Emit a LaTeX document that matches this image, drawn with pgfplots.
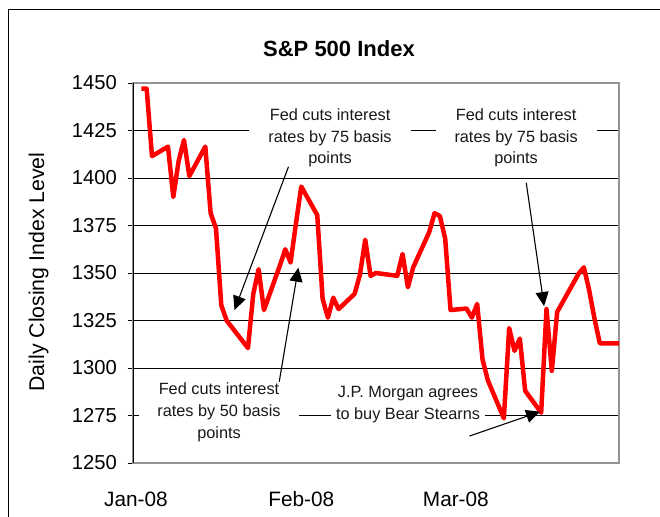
\documentclass[border=0pt]{standalone}
\usepackage{fontspec}
\setmainfont{Liberation Sans}
\usepackage{pgfplots}
\pgfplotsset{compat=1.18}
\usetikzlibrary{arrows.meta}

\pgfplotstableread{
day value
2 1447
3 1447
4 1411.5
7 1416.5
8 1390
9 1409
10 1420
11 1401
14 1416.5
15 1381.5
16 1373.5
17 1333
18 1325
22 1310.5
23 1339
24 1352
25 1330.5
28 1354
29 1362.5
30 1355.5
31 1376
32 1395.5
35 1380.5
36 1336.5
37 1326.5
38 1337
39 1331
42 1339
43 1349
44 1367.5
45 1348.5
46 1350
50 1348.5
51 1360
52 1342.5
53 1353
56 1371.5
57 1381.5
58 1380
59 1368
60 1330.5
63 1331.3
64 1326.5
65 1333.7
66 1304.5
67 1293.5
70 1273.5
71 1321
72 1309
73 1315.5
74 1288
77 1276.5
78 1331
79 1298.5
80 1329.5
84 1349.5
85 1353
86 1341
87 1326
88 1313
91.6 1313
}\spx

\begin{document}
\begin{tikzpicture}
\path[use as bounding box] (-133bp,-54bp) rectangle (527bp,463bp);
\draw[line width=1.4bp] (-124.6bp,-100bp) -- (-124.6bp,453.7bp) -- (600bp,453.7bp);
\begin{axis}[
  at={(0,0)}, anchor=south west,
  scale only axis, width=486bp, height=380bp,
  xmin=0.437, xmax=91.6, ymin=1250, ymax=1450,
  clip=false,
  xtick={1,32,61}, xticklabels={Jan-08,Feb-08,Mar-08},
  ytick={1250,1275,...,1450},
  ymajorgrids, grid style={black, line width=0.8bp},
  axis line style={draw=gray!85, line width=1.8bp},
  ytick pos=left, xtick pos=bottom,
  tick align=outside, major tick length=5bp,
  ytick style={black, line width=0.8bp},
  xtick style={draw=none},
  yticklabel style={font=\fontsize{20.2bp}{24bp}\selectfont, anchor=east, inner sep=0pt, xshift=-11bp},
  xticklabel style={font=\fontsize{20.8bp}{24bp}\selectfont, anchor=base, inner sep=0pt, yshift=-38.5bp},
  /pgf/number format/assume math mode=true,
  /pgf/number format/1000 sep={},
]
\draw[black, line width=1bp] (axis cs:0.437,1250) -- (axis cs:0.437,1450);
\addplot[red, line width=4.5bp, line join=round, no marks] table[x=day, y=value] {\spx};

\tikzset{ann/.style={fill=white, align=center, inner ysep=1bp, text=black!90,
  font=\fontsize{16.3bp}{21.6bp}\selectfont}}
\node[ann, inner xsep=19bp] at (axis cs:37.4,1421.05) {Fed cuts interest\\rates by 75 basis\\points};
\node[ann, inner xsep=19bp] at (axis cs:72.3,1421.05) {Fed cuts interest\\rates by 75 basis\\points};
\node[ann, inner xsep=18bp] at (axis cs:16.57,1276.7) {Fed cuts interest\\rates by 50 basis\\points};
\node[ann, inner xsep=5bp] at (axis cs:52.03,1280.8) {J.P. Morgan agrees\\to buy Bear Stearns};

\tikzset{arr/.style={black, line width=1.1bp, -{Triangle[length=14bp, width=13bp]}}}
\draw[arr] (axis cs:29.6,1405.9) -- (axis cs:19.48,1330.5);
\draw[arr] (axis cs:27.87,1292.8) -- (axis cs:31.45,1352.8);
\draw[arr] (axis cs:74.2,1397.5) -- (axis cs:77.55,1332.6);
\draw[arr] (axis cs:63.57,1264.2) -- (axis cs:76.8,1277);
\end{axis}
\node[anchor=base, font=\bfseries\fontsize{22bp}{26bp}\selectfont] at (206bp,406.3bp) {S\&P 500 Index};
\node[rotate=90, anchor=base, font=\fontsize{21.3bp}{25bp}\selectfont] at (-88.8bp,191bp) {Daily Closing Index Level};
\end{tikzpicture}
\end{document}
